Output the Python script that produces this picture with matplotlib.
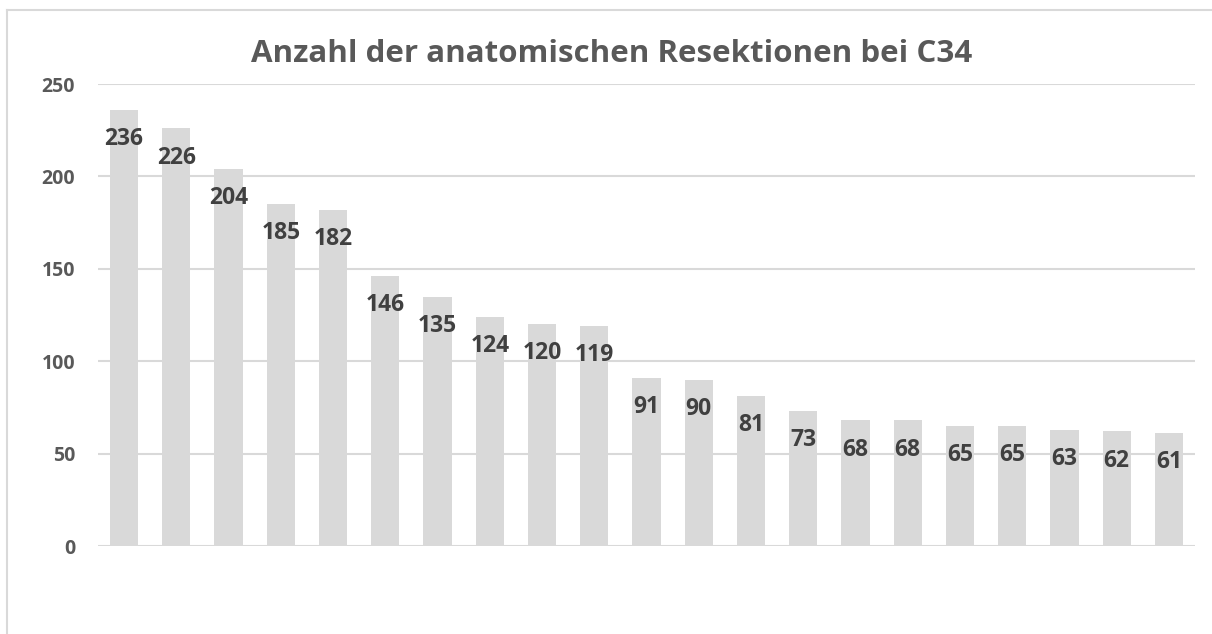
import matplotlib
matplotlib.use("Agg")
import matplotlib.pyplot as plt
from matplotlib.lines import Line2D

title = "Anzahl der anatomischen Resektionen bei C34"
values = [236, 226, 204, 185, 182, 146, 135, 124, 120, 119, 91, 90, 81, 73, 68, 68, 65, 65, 63, 62, 61]
yticks = [0, 50, 100, 150, 200, 250]

plt.rcParams['font.family'] = ['Open Sans', 'DejaVu Sans']

W, H = 1212, 634
fig = plt.figure(figsize=(W / 100, H / 100), dpi=100)
ax = fig.add_axes([98 / W, 1 - 546 / H, (1195 - 98) / W, (546 - 84) / H])

x = list(range(len(values)))
ax.bar(x, values, width=0.54, color='#d9d9d9', zorder=2)
ax.set_xlim(-0.5, len(values) - 0.5)
ax.set_ylim(0, 250)
ax.set_yticks(yticks)
ax.set_yticklabels([str(t) for t in yticks], fontsize=14, fontweight='bold', color='#595959')
ax.tick_params(axis='y', length=0, pad=16.5)
ax.tick_params(axis='x', length=0, labelbottom=False)
ax.grid(axis='y', color='#d9d9d9', linewidth=1.5, zorder=0)
for s in ax.spines.values():
    s.set_visible(False)

for xi, v in zip(x, values):
    ax.annotate(str(v), (xi, v), xytext=(0, -21), textcoords='offset points',
                ha='center', va='center', fontsize=16.5, fontweight='bold', color='#404040', zorder=3)

fig.text(612 / W, 1 - 54 / H, title, ha='center', va='center', fontsize=22.5, fontweight='bold', color='#595959')

fig.add_artist(Line2D([7 / W, 1.0], [1 - 10 / H, 1 - 10 / H], transform=fig.transFigure, color='#d9d9d9', linewidth=1.5))
fig.add_artist(Line2D([7 / W, 7 / W], [1 - 10 / H, 0], transform=fig.transFigure, color='#d9d9d9', linewidth=1.5))

fig.savefig('out.png', dpi=100)
